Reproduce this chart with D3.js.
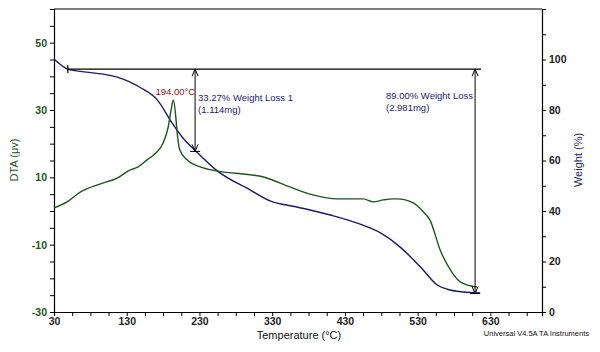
<!DOCTYPE html>
<html><head><meta charset="utf-8">
<script src="https://cdn.jsdelivr.net/npm/d3@7"></script>
<style>body{margin:0;background:#fff}svg{font-family:"Liberation Sans",Arial,sans-serif}</style>
</head><body><svg id="c" width="600" height="352"></svg>
<script>
const xTicks=[30,130,230,330,430,530,630];
const dtaTicks=[-30,-10,10,30,50];
const wTicks=[0,20,40,60,80,100];
const weightT=[30,49,75,117,148,172,192,207,224,254,300,327,364,410,447,479,506,534,557,571,593,616];
const weightV=[100.2,96.2,95,93,89,84,75,69,64,56,48.3,44,41.6,38.4,35.2,31.3,25.7,17.8,10.7,9,7.9,7.5];
const dtaT=[30,48,66,93,117,135,145,158,170,180,187,191,194,197,199,203,213,231,254,318,355,386,419,455,469,483,496,502,524,538,547,561,575,589,612];
const dtaV=[0.9,2.7,5.6,8,9.8,12.2,13,15.2,17.2,20.2,24.9,30,33,29,24,18.1,15.2,13.1,11.9,10.1,7.1,4.8,3.6,3.6,2.7,3.3,3.6,3.6,2.4,-0.3,-2.7,-11.6,-17.5,-21.1,-22.6];
const peakLabel="194.00°C";
const loss1=["33.27% Weight Loss 1","(1.114mg)"];
const loss2=["89.00% Weight Loss","(2.981mg)"];
const refT=[49,224,609]; // start, end1, end2 temperatures
const refW=[96.2,63.6,7.3];

const svg=d3.select("#c");
const L=54,R=542,T=9,B=312;
const x=d3.scaleLinear().domain([30,701]).range([L,R]);
const yD=d3.scaleLinear().domain([-30,60]).range([B,T]);
const yW=d3.scaleLinear().domain([0,120]).range([B,T]);
const green="#1d551d",navy="#1c1c66";

svg.append("line").attr("x1",L).attr("x2",R).attr("y1",T).attr("y2",T).attr("stroke","#000").attr("stroke-width",1);

const gx=svg.append("g").attr("transform",`translate(0,${B})`)
 .call(d3.axisBottom(x).tickValues(d3.range(30,701,25)).tickSize(4).tickPadding(2).tickFormat(d=>xTicks.includes(d)?d:""));
const gl=svg.append("g").attr("transform",`translate(${L},0)`)
 .call(d3.axisLeft(yD).tickValues(d3.range(-30,61,5)).tickSize(4).tickFormat(d=>dtaTicks.includes(d)?d:""));
const gr=svg.append("g").attr("transform",`translate(${R},0)`)
 .call(d3.axisRight(yW).tickValues(d3.range(0,121,10)).tickSize(4).tickFormat(d=>wTicks.includes(d)?d:""));
[gx,gl,gr].forEach(g=>{g.select(".domain").attr("stroke","#000").attr("stroke-width",1.2);
 g.selectAll(".tick line").attr("stroke","#000");
 g.selectAll("text").attr("font-size",10.5).attr("font-weight","bold").attr("font-family","'Liberation Sans',Arial,sans-serif");});
gx.selectAll("text").attr("fill","#222");
gl.selectAll("text").attr("fill",green);
gr.selectAll("text").attr("fill","#222");

const lineW=d3.line().x((d,i)=>x(weightT[i])).y((d,i)=>yW(weightV[i])).curve(d3.curveMonotoneX);
svg.append("path").attr("d",lineW(weightT)).attr("fill","none").attr("stroke",navy).attr("stroke-width",1.4);
const lineD=d3.line().x((d,i)=>x(dtaT[i])).y((d,i)=>yD(dtaV[i])).curve(d3.curveMonotoneX);
svg.append("path").attr("d",lineD(dtaT)).attr("fill","none").attr("stroke",green).attr("stroke-width",1.4);

const yTop=yW(refW[0]);
svg.append("line").attr("x1",x(refT[0])).attr("x2",x(refT[2])+6).attr("y1",yTop).attr("y2",yTop).attr("stroke","#000").attr("stroke-width",1.2);
svg.append("line").attr("x1",x(refT[0])).attr("x2",x(refT[0])).attr("y1",yTop-4).attr("y2",yTop+4).attr("stroke","#000").attr("stroke-width",1.2);
function arrow(t,w){
 const xx=x(t),y2=yW(w);
 svg.append("line").attr("x1",xx).attr("x2",xx).attr("y1",yTop).attr("y2",y2).attr("stroke","#000").attr("stroke-width",1);
 svg.append("path").attr("d",`M${xx-3},${yTop+7}L${xx},${yTop}L${xx+3},${yTop+7}`).attr("fill","none").attr("stroke","#000");
 svg.append("path").attr("d",`M${xx-3},${y2-7}L${xx},${y2}L${xx+3},${y2-7}`).attr("fill","none").attr("stroke","#000");
 svg.append("line").attr("x1",xx-5).attr("x2",xx+5).attr("y1",y2).attr("y2",y2).attr("stroke","#000");
}
arrow(refT[1],refW[1]);
arrow(refT[2],refW[2]);

const fs=9.5;
svg.append("text").attr("x",x(194)+2).attr("y",yD(33)-5).attr("text-anchor","middle").attr("fill","#8b1515").attr("font-size",fs).text(peakLabel);
svg.append("text").attr("x",x(refT[1])+3).attr("y",101).attr("fill",navy).attr("font-size",fs).text(loss1[0]);
svg.append("text").attr("x",x(refT[1])+3).attr("y",113).attr("fill",navy).attr("font-size",fs).text(loss1[1]);
svg.append("text").attr("x",386).attr("y",99).attr("fill",navy).attr("font-size",fs).text(loss2[0]);
svg.append("text").attr("x",386).attr("y",111).attr("fill",navy).attr("font-size",fs).text(loss2[1]);

svg.append("text").attr("transform","translate(18,160) rotate(-90)").attr("text-anchor","middle").attr("fill",green).attr("font-size",11).text("DTA (μv)");
svg.append("text").attr("transform","translate(582,160) rotate(-90)").attr("text-anchor","middle").attr("fill",navy).attr("font-size",11).text("Weight (%)");
svg.append("text").attr("x",299).attr("y",339).attr("text-anchor","middle").attr("fill","#111").attr("font-size",11).text("Temperature (°C)");
svg.append("text").attr("x",589).attr("y",336).attr("text-anchor","end").attr("fill","#111").attr("font-size",7.5).text("Universal V4.5A TA Instruments");
</script></body></html>
